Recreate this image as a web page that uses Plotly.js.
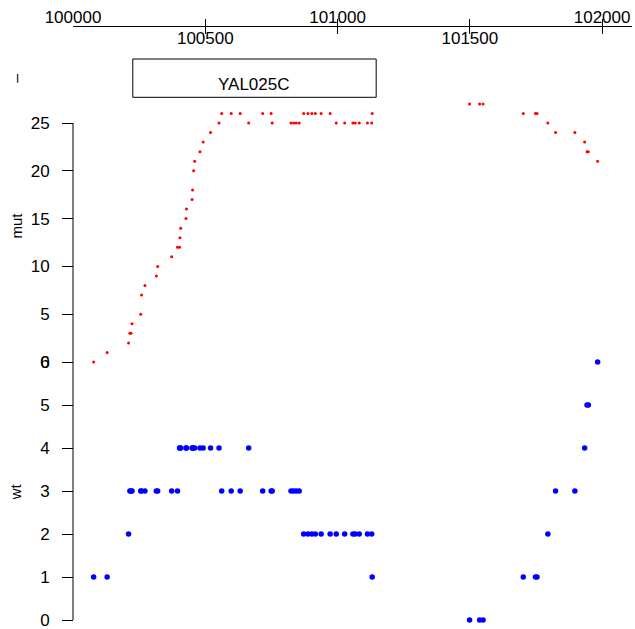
<!DOCTYPE html>
<html><head><meta charset="utf-8">
<script src="https://cdn.plot.ly/plotly-3.0.1.min.js"></script>
<style>html,body{margin:0;padding:0;background:#fff}#chart{width:635px;height:629px}</style>
</head><body><div id="chart"></div>
<script>
// genomic positions (bp)
const positions = [100078,100129,100210,100215,100219,100223,100256,100259,100272,100315,
  100320,100373,100395,100403,100404,100407,100427,100429,100450,100452,
  100456,100460,100480,100492,100520,100552,100562,100598,100632,100664,
  100717,100749,100753,100824,100834,100844,100855,100872,100888,100903,
  100916,100938,100972,100995,101027,101058,101067,101082,101113,101129,
  101131,101499,101537,101550,101702,101748,101754,101795,101824,101897,
  101934,101943,101948,101983];
const mutCounts = [0,1,2,3,3,4,5,7,8,9,
  10,11,12,12,13,14,15,16,17,18,
  20,21,22,23,24,25,26,26,26,25,
  26,26,25,25,25,25,25,26,26,26,
  26,26,26,25,25,25,25,25,25,25,
  26,27,27,27,26,26,26,25,24,24,
  23,22,22,21];
const wtCounts = [1,1,2,3,3,3,3,3,3,3,
  3,3,3,4,4,4,4,4,4,4,
  4,4,4,4,4,4,3,3,3,4,
  3,3,3,3,3,3,3,2,2,2,
  2,2,2,2,2,2,2,2,2,2,
  1,0,0,0,1,1,1,2,3,3,
  4,5,5,6];
const geneName = 'YAL025C';
const geneStart = 100226;
const geneEnd = 101146;
const axisTicks = [100000,100500,101000,101500,102000];
const mutTicks = [0,5,10,15,20,25];
const wtTicks = [0,1,2,3,4,5,6];

const FONT = 'Liberation Sans, Arial, sans-serif';
const W = 635, H = 629;
const topLabels = axisTicks.map((v,i)=> i%2===0 ? String(v) : '');
const botLabels = axisTicks.map((v,i)=> i%2===1 ? String(v) : '');
const axisPos = 1 - 26/H;

const traces = [
  {x: positions, y: mutCounts, xaxis:'x', yaxis:'y', type:'scatter', mode:'markers',
   marker:{color:'#ff0000', size:3}, cliponaxis:false, hoverinfo:'x+y', name:'mut'},
  {x: positions, y: wtCounts, xaxis:'x2', yaxis:'y2', type:'scatter', mode:'markers',
   marker:{color:'#0000ff', size:5.5}, cliponaxis:false, hoverinfo:'x+y', name:'wt'}
];

const xr = [100000, 102113];
const xcommon = {range: xr, autorange:false, showgrid:false, zeroline:false, anchor:'free',
  position: axisPos, ticks:'inside', ticklen:7, tickwidth:1, tickcolor:'#000',
  tickvals: axisTicks, tickfont:{family:FONT, size:17, color:'#000'}, domain:[0,1],
  ticklabeloverflow:'allow'};

const ycommon = {anchor:'free', position:0, showline:false, showgrid:false, zeroline:false,
  ticks:'outside', ticklen:11, tickwidth:1, tickcolor:'#000', ticklabelstandoff:9,
  ticklabeloverflow:'allow', tickfont:{family:FONT, size:17, color:'#000'}};

const mutBottom = 1 - 362/H;
const layout = {
  width: W, height: H,
  margin:{l:73, r:3, t:0, b:0},
  paper_bgcolor:'#fff', plot_bgcolor:'rgba(0,0,0,0)',
  showlegend:false,
  font:{family:FONT, color:'#000'},
  xaxis: Object.assign({}, xcommon, {side:'top', showline:true, linecolor:'#000', linewidth:1,
    ticktext: topLabels, ticklabelstandoff:-4}),
  xaxis2: Object.assign({}, xcommon, {side:'bottom', showline:false, ticktext: botLabels}),
  yaxis: Object.assign({}, ycommon, {domain:[mutBottom, 1 - (362 - 28*9.56)/H], range:[0, 28],
    autorange:false, tickvals: mutTicks}),
  yaxis2: Object.assign({}, ycommon, {domain:[0, mutBottom], range:[-(H-620)/43, 6],
    autorange:false, tickvals: wtTicks}),
  shapes: [
    {type:'line', xref:'paper', yref:'y', x0:0, x1:0, y0:mutTicks[0], y1:mutTicks[mutTicks.length-1], line:{color:'#000', width:1}},
    {type:'line', xref:'paper', yref:'y2', x0:0, x1:0, y0:wtTicks[0], y1:wtTicks[wtTicks.length-1], line:{color:'#000', width:1}},
    {type:'rect', xref:'x', yref:'paper', x0:geneStart, x1:geneEnd, y0:1-97.3/H, y1:1-59/H, line:{color:'#000', width:1}, fillcolor:'rgba(0,0,0,0)'}
  ],
  annotations: [
    {text: geneName, xref:'x', yref:'paper', x:(geneStart+geneEnd)/2, y:1-84.5/H, showarrow:false,
     font:{family:FONT, size:17, color:'#000'}, xanchor:'center', yanchor:'middle'},
    {text:'–', xref:'paper', yref:'paper', x:(15.7-73)/559, y:1-78/H, showarrow:false, textangle:-90,
     font:{family:FONT, size:16, color:'#000'}, xanchor:'center', yanchor:'middle'},
    {text:'mut', xref:'paper', yref:'paper', x:(15.5-73)/559, y:1-226/H, showarrow:false, textangle:-90,
     font:{family:FONT, size:15, color:'#000'}, xanchor:'center', yanchor:'middle'},
    {text:'wt', xref:'paper', yref:'paper', x:(15.5-73)/559, y:1-491.8/H, showarrow:false, textangle:-90,
     font:{family:FONT, size:15, color:'#000'}, xanchor:'center', yanchor:'middle'}
  ]
};

Plotly.newPlot('chart', traces, layout, {displayModeBar:false, staticPlot:true});
</script>
</body></html>
